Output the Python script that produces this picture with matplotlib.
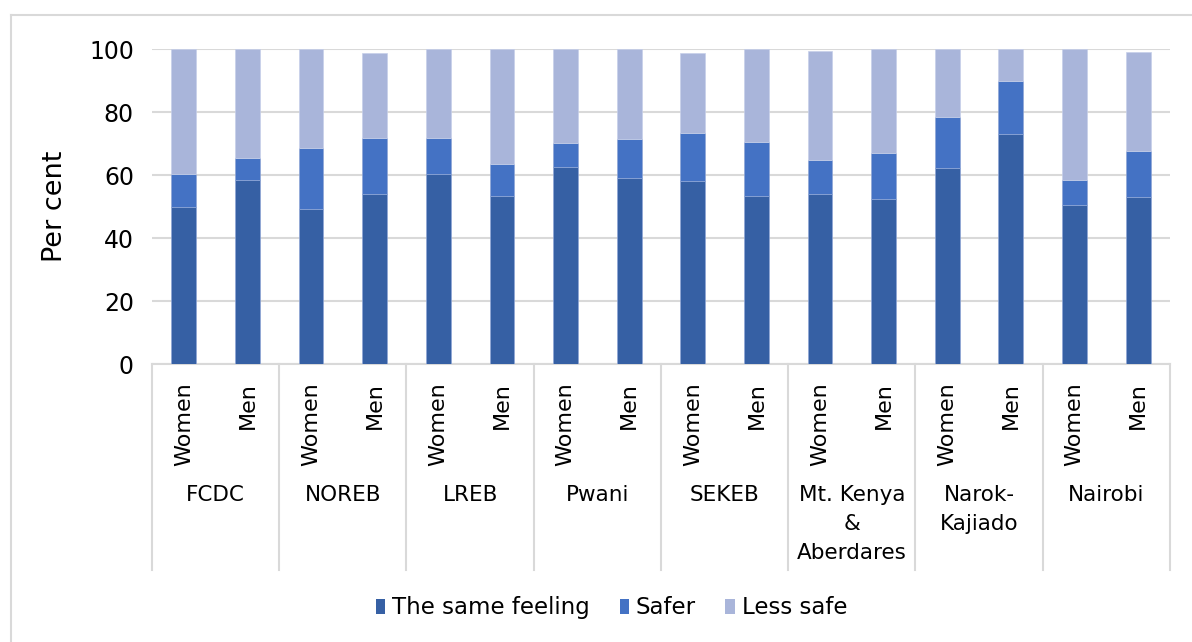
import matplotlib.pyplot as plt
from matplotlib.patches import Patch
from matplotlib.lines import Line2D
import matplotlib.transforms as mtransforms

regions = ["FCDC", "NOREB", "LREB", "Pwani", "SEKEB",
           "Mt. Kenya\n&\nAberdares", "Narok-\nKajiado", "Nairobi"]
sexes = ["Women", "Men"]

# one value per bar, Women then Men for each region
same_feeling = [50.0, 58.6, 49.4, 54.0, 60.5, 53.3, 62.6, 59.2,
                58.1, 53.5, 54.0, 52.4, 62.4, 73.2, 50.6, 53.2]
safer = [10.3, 6.9, 19.3, 17.9, 11.4, 10.3, 7.5, 12.3,
         15.4, 17.1, 11.0, 14.8, 16.1, 16.8, 7.8, 14.5]
less_safe = [39.7, 34.5, 31.3, 27.1, 28.1, 36.4, 29.9, 28.5,
             25.5, 29.4, 34.5, 32.8, 21.5, 10.0, 41.6, 31.5]

series = ["The same feeling", "Safer", "Less safe"]
colors = ["#3660A4", "#4472C4", "#A9B5DA"]
grid_col = "#D9D9D9"

plt.rcParams['font.family'] = ['DejaVu Sans']

fig = plt.figure(figsize=(11.92, 6.42), dpi=100)
ax = fig.add_axes([0.1275, 0.433, 0.854, 0.490])

x = list(range(len(same_feeling)))
bottom2 = [a + b for a, b in zip(same_feeling, safer)]
w = 0.39
ax.bar(x, same_feeling, w, color=colors[0], edgecolor="#8FA6D6", linewidth=0.5, zorder=3)
ax.bar(x, safer, w, bottom=same_feeling, color=colors[1], edgecolor="#8FA6D6", linewidth=0.5, zorder=3)
ax.bar(x, less_safe, w, bottom=bottom2, color=colors[2], edgecolor="#C7D0EA", linewidth=0.5, zorder=3)

ax.set_xlim(-0.5, len(x) - 0.5)
ax.set_ylim(0, 100)
ax.set_yticks([0, 20, 40, 60, 80, 100])
ax.yaxis.grid(True, color=grid_col, linewidth=1.5, zorder=0)
ax.tick_params(axis="y", length=0, labelsize=17, pad=13)
ax.tick_params(axis="x", length=0, labelbottom=False)
for s in ["top", "right", "left"]:
    ax.spines[s].set_visible(False)
ax.spines["bottom"].set_color(grid_col)
ax.spines["bottom"].set_linewidth(1.5)
ax.set_ylabel("Per cent", fontsize=19.5)
ax.yaxis.set_label_coords(-0.0826, 0.5)

# two-level category axis: sex labels, region labels and dividers
trans = mtransforms.blended_transform_factory(ax.transData, ax.transAxes)
for i, xi in enumerate(x):
    ax.text(xi, -0.057, sexes[i % 2], rotation=90, ha="center", va="top",
            fontsize=16, transform=trans)
for g, name in enumerate(regions):
    ax.text(2 * g + 0.5, -0.385, name, ha="center", va="top", fontsize=15.5,
            linespacing=1.55, transform=trans)
for g in range(len(regions) + 1):
    ax.add_line(Line2D([2 * g - 0.5, 2 * g - 0.5], [0, -0.655], color=grid_col,
                       linewidth=1.5, transform=trans, clip_on=False))

handles = [Patch(facecolor=c) for c in colors]
fig.legend(handles, series, loc="center", bbox_to_anchor=(0.513, 0.053),
           ncol=3, frameon=False, fontsize=16.5, handlelength=0.4, handleheight=0.6,
           handletextpad=0.3, columnspacing=1.3)

# chart border
fig.add_artist(Line2D([11 / 1192, 1], [1 - 15 / 642, 1 - 15 / 642], color=grid_col,
                      linewidth=1.5, transform=fig.transFigure))
fig.add_artist(Line2D([11 / 1192, 11 / 1192], [0, 1 - 15 / 642], color=grid_col,
                      linewidth=1.5, transform=fig.transFigure))

fig.savefig("out.png", dpi=100)
